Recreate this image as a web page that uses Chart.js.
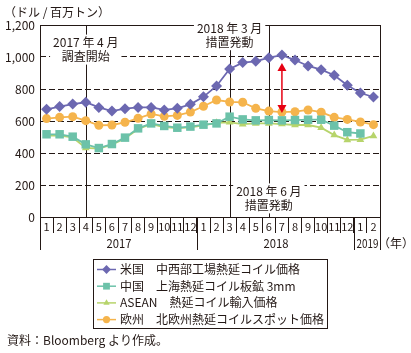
<!DOCTYPE html>
<html lang="ja">
<head>
<meta charset="utf-8">
<script src="https://cdn.jsdelivr.net/npm/chart.js@4.4.1/dist/chart.umd.min.js"></script>
<style>
html, body { margin: 0; padding: 0; background: #fff; }
#wrap { width: 411px; height: 353px; }
</style>
</head>
<body>
<div id="wrap"><canvas id="grafico" width="411" height="353"></canvas></div>
<script>
// Dados (ドル/百万トン), 2017年1月〜2019年2月
const meses = ['1','2','3','4','5','6','7','8','9','10','11','12',
               '1','2','3','4','5','6','7','8','9','10','11','12',
               '1','2'];
const anos = ['2017', '2018', '2019'];
const yTicks = [0, 200, 400, 600, 800, 1000, 1200];

const precoEUA    = [673, 690, 706, 717, 685, 662, 677, 685, 685, 669, 679, 704,
                     751, 819, 925, 965, 973, 996, 1012, 981, 944, 921, 886, 823, 775, 750];
const precoChina  = [517, 517, 502, 454, 431, 456, 496, 554, 585, 569, 558, 565,
                     577, 585, 627, 610, 604, 606, 604, 606, 608, 608, 571, 530, 522, null];
const precoASEAN  = [508, 508, 497, 432, 427, 452, 491, 550, 580, 562, 555, 560,
                     572, 589, 592, 580, 585, 585, 581, 575, 575, 558, 512, 482, 483, 507];
const precoEuropa = [615, 623, 627, 602, 573, 575, 592, 617, 644, 629, 635, 656,
                     692, 731, 719, 717, 679, 662, 656, 658, 669, 655, 623, 610, 594, 577];

const legendas = [
    '米国　中西部工場熱延コイル価格',
    '中国　上海熱延コイル板鉱 3mm',
    'ASEAN　熱延コイル輸入価格',
    '欧州　北欧州熱延コイルスポット価格'
];

// Eventos: índice do mês e texto
const eventos = [
    { idx: 3,  linhas: ['2017 年 4 月', '調査開始'], valor: 1090 },
    { idx: 14, linhas: ['2018 年 3 月', '措置発動'], valor: 1180 },
    { idx: 17, linhas: ['2018 年 6 月', '措置発動'], valor: 160 }
];
const idxSeta = 18;

const PRETO = '#231815';
const FONTE = "'Noto Sans CJK JP', 'Noto Sans', sans-serif";
const cores = ['#6c68b1', '#6cc2a9', '#b7d46b', '#f5b44c'];
const estilos = ['rectRot', 'rect', 'triangle', 'circle'];
const raios = [5.5, 6, 4.5, 4.5];

const pluginDesenhos = {
    id: 'desenhos',
    beforeDatasetsDraw(chart) {
        const ctx = chart.ctx;
        const area = chart.chartArea;
        const x = chart.scales.x;
        const y = chart.scales.y;
        ctx.save();
        // linhas verticais dos eventos
        ctx.strokeStyle = PRETO;
        ctx.lineWidth = 1;
        eventos.forEach(ev => {
            const px = Math.round(x.getPixelForValue(ev.idx)) + 0.5;
            ctx.beginPath();
            ctx.moveTo(px, area.top);
            ctx.lineTo(px, area.bottom);
            ctx.stroke();
        });
        // borda da área do gráfico
        ctx.strokeRect(Math.round(area.left) + 0.5, Math.round(area.top) + 0.5,
                       Math.round(area.right - area.left), Math.round(area.bottom - area.top));
        // caixas de texto dos eventos
        ctx.font = '12px ' + FONTE;
        ctx.textAlign = 'center';
        ctx.textBaseline = 'middle';
        eventos.forEach(ev => {
            const cx = x.getPixelForValue(ev.idx);
            const cy = y.getPixelForValue(ev.valor);
            const larg = Math.max(...ev.linhas.map(t => ctx.measureText(t).width)) + 6;
            ctx.fillStyle = '#fff';
            ctx.fillRect(cx - larg / 2, cy - 8, larg, 30);
            ctx.fillStyle = PRETO;
            ev.linhas.forEach((t, i) => ctx.fillText(t, cx, cy + i * 14));
        });
        ctx.restore();
    },
    afterDatasetsDraw(chart) {
        // seta vermelha entre EUA e Europa
        const ctx = chart.ctx;
        const x = chart.scales.x;
        const y = chart.scales.y;
        const px = x.getPixelForValue(idxSeta);
        const topo = y.getPixelForValue(precoEUA[idxSeta]) + 8;
        const base = y.getPixelForValue(precoEuropa[idxSeta]) + 1;
        ctx.save();
        ctx.strokeStyle = '#e60012';
        ctx.fillStyle = '#e60012';
        ctx.lineWidth = 1.5;
        ctx.beginPath();
        ctx.moveTo(px, topo + 6);
        ctx.lineTo(px, base - 6);
        ctx.stroke();
        ctx.beginPath();
        ctx.moveTo(px, topo);
        ctx.lineTo(px - 4.5, topo + 8);
        ctx.lineTo(px + 4.5, topo + 8);
        ctx.closePath();
        ctx.fill();
        ctx.beginPath();
        ctx.moveTo(px, base);
        ctx.lineTo(px - 4.5, base - 8);
        ctx.lineTo(px + 4.5, base - 8);
        ctx.closePath();
        ctx.fill();
        ctx.restore();
    },
    afterDraw(chart) {
        const ctx = chart.ctx;
        const area = chart.chartArea;
        const x = chart.scales.x;
        ctx.save();
        ctx.strokeStyle = PRETO;
        ctx.fillStyle = PRETO;
        ctx.lineWidth = 1;
        // separadores dos anos
        const w = x.getPixelForValue(1) - x.getPixelForValue(0);
        const limites = [0, 12, 24, 26].map(i => Math.round(x.getPixelForValue(0) - w / 2 + i * w) + 0.5);
        limites.forEach(px => {
            ctx.beginPath();
            ctx.moveTo(px, area.bottom);
            ctx.lineTo(px, area.bottom + 33);
            ctx.stroke();
        });
        ctx.font = '12px ' + FONTE;
        ctx.textAlign = 'center';
        ctx.textBaseline = 'middle';
        anos.forEach((a, i) => {
            const larg = Math.min(limites[i + 1] - limites[i] - 4, 25);
            ctx.fillText(a, (limites[i] + limites[i + 1]) / 2, area.bottom + 26, larg);
        });
        ctx.fillText('（年）', 396, area.bottom + 26);
        // unidade
        ctx.textAlign = 'left';
        ctx.fillText('（ドル / 百万トン）', 4, 12);
        // fonte
        ctx.fillText('資料：Bloomberg より作成。', 7, 340);
        // legenda
        ctx.strokeRect(93.5, 259.5, 234, 69);
        legendas.forEach((t, i) => {
            const ly = 269.5 + i * 16.7;
            ctx.strokeStyle = cores[i];
            ctx.fillStyle = cores[i];
            ctx.lineWidth = 1.5;
            ctx.beginPath();
            ctx.moveTo(97, ly);
            ctx.lineTo(116, ly);
            ctx.stroke();
            Chart.helpers.drawPoint(ctx, {
                pointStyle: estilos[i], rotation: 0,
                radius: raios[i] * 0.8, borderWidth: 0
            }, 106.5, ly);
            ctx.fillStyle = PRETO;
            ctx.fillText(t, 120, ly);
        });
        ctx.restore();
    }
};

function criarSerie(nome, dados, i) {
    return {
        label: nome,
        data: dados,
        borderColor: cores[i],
        backgroundColor: cores[i],
        borderWidth: 1.8,
        pointStyle: estilos[i],
        pointRadius: raios[i],
        pointBorderWidth: 0,
        pointHoverRadius: raios[i],
        spanGaps: false
    };
}

const ctx = document.getElementById('grafico').getContext('2d');
const grafico = new Chart(ctx, {
    type: 'line',
    data: {
        labels: meses,
        datasets: [
            criarSerie(legendas[0], precoEUA, 0),
            criarSerie(legendas[1], precoChina, 1),
            criarSerie(legendas[2], precoASEAN, 2),
            criarSerie(legendas[3], precoEuropa, 3)
        ]
    },
    options: {
        responsive: false,
        animation: false,
        devicePixelRatio: 1,
        layout: {
            autoPadding: false,
            padding: { left: 0, top: 25, right: 31, bottom: 116 }
        },
        plugins: {
            legend: { display: false },
            tooltip: { enabled: false }
        },
        scales: {
            x: {
                offset: true,
                afterFit: (s) => { s.height = 20; },
                grid: {
                    offset: true,
                    drawOnChartArea: false,
                    drawTicks: true,
                    tickLength: 16,
                    color: PRETO,
                    lineWidth: 1
                },
                border: { display: false },
                ticks: {
                    color: PRETO,
                    font: { family: FONTE, size: 11 },
                    padding: -13,
                    maxRotation: 0,
                    autoSkip: false
                }
            },
            y: {
                min: 0,
                max: 1200,
                afterFit: (s) => { s.width = 40; },
                afterBuildTicks: (s) => { s.ticks = yTicks.map(v => ({ value: v })); },
                ticks: {
                    color: PRETO,
                    padding: 5,
                    font: { family: FONTE, size: 12 },
                    callback: (v) => v.toLocaleString('en-US')
                },
                grid: {
                    drawTicks: false,
                    lineWidth: 1,
                    color: (c) => (c.tick && (c.tick.value === 0 || c.tick.value === 1200)) ? 'rgba(0,0,0,0)' : PRETO
                },
                border: { display: false, dash: [6, 3] }
            }
        }
    },
    plugins: [pluginDesenhos]
});
</script>
</body>
</html>
